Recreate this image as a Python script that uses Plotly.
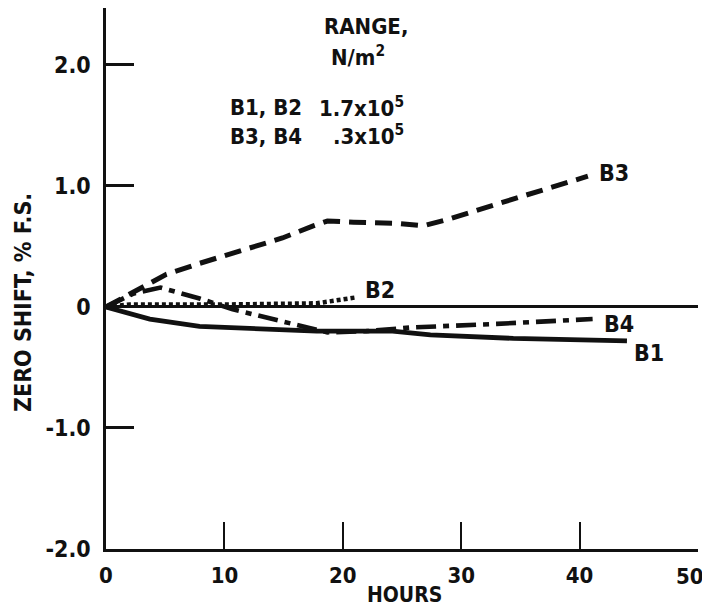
import plotly.graph_objects as go

# ---- data ----
hours_b1 = [0, 3.7, 7.9, 12.2, 17.8, 24.2, 27.4, 34.4, 44.0]
shift_b1 = [0, -0.10, -0.16, -0.18, -0.20, -0.20, -0.23, -0.26, -0.28]

hours_b2 = [0, 2, 10, 17.8, 21.2]
shift_b2 = [0, 0.02, 0.02, 0.03, 0.08]

hours_b3 = [0, 3.1, 5.1, 7.9, 11.3, 14.9, 17.5, 18.7, 20.9, 24.6, 26.8, 29.1, 33.0, 37.2, 40.7]
shift_b3 = [0, 0.16, 0.27, 0.36, 0.46, 0.57, 0.67, 0.71, 0.70, 0.69, 0.67, 0.73, 0.85, 0.98, 1.08]

hours_b4 = [0, 2.3, 4.6, 7.9, 10.7, 14.1, 17.0, 18.7, 22.0, 25.7, 33.0, 41.1]
shift_b4 = [0, 0.11, 0.16, 0.07, -0.02, -0.10, -0.17, -0.21, -0.20, -0.17, -0.14, -0.10]

series_names = ["B1", "B2", "B3", "B4"]
x_ticks = [0, 10, 20, 30, 40, 50]
x_tick_labels = ["0", "10", "20", "30", "40", "50"]
y_ticks = [-2, -1, 0, 1, 2]
y_tick_labels = ["-2.0", "-1.0", "0", "1.0", "2.0"]

FONT = "DejaVu Sans Condensed, Liberation Sans Narrow, DejaVu Sans, sans-serif"
INK = "#111111"


def fnt(size):
    return dict(family=FONT, size=size, color=INK, weight="bold")


fig = go.Figure()

styles = {
    "B1": dict(dash="solid", width=4.8),
    "B2": dict(dash="4px,3px", width=4.5),
    "B3": dict(dash="17px,9px", width=5),
    "B4": dict(dash="20px,7px,6px,7px", width=4.6),
}
data = {
    "B1": (hours_b1, shift_b1),
    "B2": (hours_b2, shift_b2),
    "B3": (hours_b3, shift_b3),
    "B4": (hours_b4, shift_b4),
}
for name in series_names:
    xs, ys = data[name]
    fig.add_trace(go.Scatter(x=xs, y=ys, mode="lines", name=name,
                             line=dict(color=INK, **styles[name]),
                             showlegend=False))

# series end labels
label_offsets = {"B1": (5, -12), "B2": (6, 7), "B3": (9, 3), "B4": (9, -5)}
for name in series_names:
    xs, ys = data[name]
    dx, dy = label_offsets[name]
    fig.add_annotation(x=xs[-1], y=ys[-1], text=name, showarrow=False,
                       xanchor="left", yanchor="middle", xshift=dx, yshift=dy,
                       font=fnt(23))

# legend-like text block
txt_font = fnt(22)
fig.add_annotation(x=22.0, y=2.32, text="RANGE,", showarrow=False,
                   xanchor="center", yanchor="middle", font=txt_font)
fig.add_annotation(x=21.3, y=2.07, text="N/m<sup>2</sup>", showarrow=False,
                   xanchor="center", yanchor="middle", font=txt_font)
fig.add_annotation(x=10.3, y=1.645, text="B1, B2", showarrow=False,
                   xanchor="left", yanchor="middle", font=txt_font)
fig.add_annotation(x=10.3, y=1.41, text="B3, B4", showarrow=False,
                   xanchor="left", yanchor="middle", font=txt_font)
fig.add_annotation(x=25.3, y=1.655, text="1.7x10<sup>5</sup>", showarrow=False,
                   xanchor="right", yanchor="middle", font=txt_font)
fig.add_annotation(x=25.3, y=1.42, text=".3x10<sup>5</sup>", showarrow=False,
                   xanchor="right", yanchor="middle", font=txt_font)

# last x tick label sits at the page edge: draw it right-anchored so it is not clipped
shown_x_labels = x_tick_labels[:-1] + [""]
fig.add_annotation(x=x_ticks[-1], y=0, yref="paper", text=x_tick_labels[-1],
                   showarrow=False, xanchor="right", yanchor="top",
                   xshift=8, yshift=-13, font=fnt(22))

# axis titles (paper coords; plot area is 592 x 541 px)
fig.add_annotation(x=0.505, y=-0.085, xref="paper", yref="paper", text="HOURS",
                   showarrow=False, xanchor="center", yanchor="middle",
                   font=fnt(21), borderpad=0)
fig.add_annotation(x=-0.14, y=0.455, xref="paper", yref="paper",
                   text="ZERO SHIFT, % F.S.", textangle=-90,
                   showarrow=False, xanchor="center", yanchor="middle",
                   font=fnt(23))

fig.update_xaxes(range=[0, 50], tickvals=x_ticks, ticktext=shown_x_labels,
                 ticks="inside", ticklen=27,
                 tickwidth=2, tickcolor=INK, showline=True, linewidth=2.5,
                 linecolor=INK, showgrid=False, zeroline=False,
                 tickfont=fnt(22), ticklabelstandoff=5)
fig.update_yaxes(range=[-2, 2.47], tickvals=y_ticks, ticktext=y_tick_labels,
                 ticks="inside", ticklen=28, tickwidth=2.5, tickcolor=INK,
                 showline=True, linewidth=2.5, linecolor=INK, showgrid=False,
                 zeroline=True, zerolinewidth=2.5, zerolinecolor=INK,
                 tickfont=fnt(23), ticklabelstandoff=8)

# the page body adds an 8px margin, so the figure is sized so the page
# does not overflow the 710x616 window
fig.update_layout(width=702, height=600, plot_bgcolor="white",
                  paper_bgcolor="white",
                  margin=dict(l=98, r=12, t=0, b=59))

fig.write_html("out.html")
